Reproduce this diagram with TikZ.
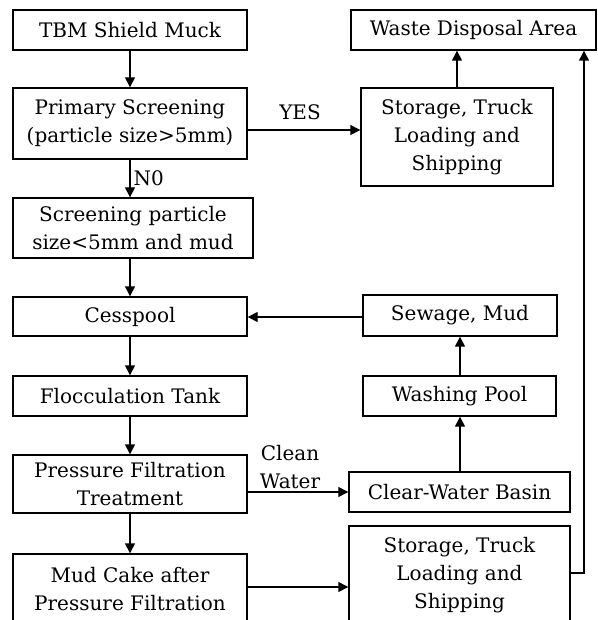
\documentclass[tikz,border=0pt]{standalone}
\usepackage{fontspec}
\setmainfont{DejaVu Serif}
\usetikzlibrary{arrows.meta,calc}
\begin{document}
\begin{tikzpicture}[x=1pt,y=-1pt,
  box/.style={draw,line width=1.4pt,align=center,inner sep=0pt,font=\fontsize{20}{28}\selectfont},
  arr/.style={line width=1.4pt,-{Triangle[length=10pt,width=10pt]}},
  lbl/.style={font=\fontsize{20}{28}\selectfont,align=center,inner sep=0pt}]
\clip (0,0) rectangle (597,620);
\useasboundingbox (0,0) rectangle (597,620);
\node[box,minimum width=234pt,minimum height=40pt] (tbm) at (130,30) {TBM Shield Muck};
\node[box,minimum width=234pt,minimum height=71pt] (prim) at (130,123.5) {Primary Screening\\(particle size>5mm)};
\node[box,minimum width=240pt,minimum height=60pt] (screen) at (133,228) {Screening particle\\size<5mm and mud};
\node[box,minimum width=234pt,minimum height=39pt] (cess) at (130,316.5) {Cesspool};
\node[box,minimum width=234pt,minimum height=40pt] (floc) at (130,396) {Flocculation Tank};
\node[box,minimum width=234pt,minimum height=58pt] (press) at (130,484) {Pressure Filtration\\Treatment};
\node[box,minimum width=234pt,minimum height=70pt] (mud) at (130,589) {Mud Cake after\\Pressure Filtration};
\node[box,minimum width=245pt,minimum height=40pt] (waste) at (473.5,30) {Waste Disposal Area};
\node[box,minimum width=192pt,minimum height=98pt] (stor1) at (457,137) {Storage, Truck\\Loading and\\Shipping};
\node[box,minimum width=194pt,minimum height=41pt] (sewage) at (460,315.5) {Sewage, Mud};
\node[box,minimum width=193pt,minimum height=40pt] (wash) at (459.5,396) {Washing Pool};
\node[box,minimum width=221pt,minimum height=40pt] (basin) at (459.5,492) {Clear-Water Basin};
\node[box,minimum width=221pt,minimum height=98pt] (stor2) at (459.5,575) {Storage, Truck\\Loading and\\Shipping};
\coordinate (corner) at (584,573);
\node[lbl] (yes) at (300,112) {YES};
\node[lbl] (clean) at (290,467) {Clean\\Water};
\draw[arr] (tbm) -- (prim);
\draw[arr] (prim.south) -- node[lbl,right=3pt] {N0} (prim.south |- screen.north);
\draw[arr] (prim.east |- 0,130) -- (stor1.west |- 0,130);
\draw[arr] (stor1.north) -- (stor1.north |- waste.south);
\draw[arr] (cess.north |- screen.south) -- (cess.north);
\draw[arr] (sewage.west |- 0,317) -- (cess.east |- 0,317);
\draw[arr] (cess) -- (floc);
\draw[arr] (floc) -- (press);
\draw[arr] (press) -- (mud);
\draw[arr] (press.east |- basin.west) -- (basin.west);
\draw[arr] (basin.north -| 460,0) -- (wash.south -| 460,0);
\draw[arr] (wash.north -| 460,0) -- (sewage.south -| 460,0);
\draw[arr] (mud.east |- 0,587) -- (stor2.west |- 0,587);
\draw[arr] (stor2.east |- corner) -- (corner) -- (corner |- waste.south);
\end{tikzpicture}
\end{document}
